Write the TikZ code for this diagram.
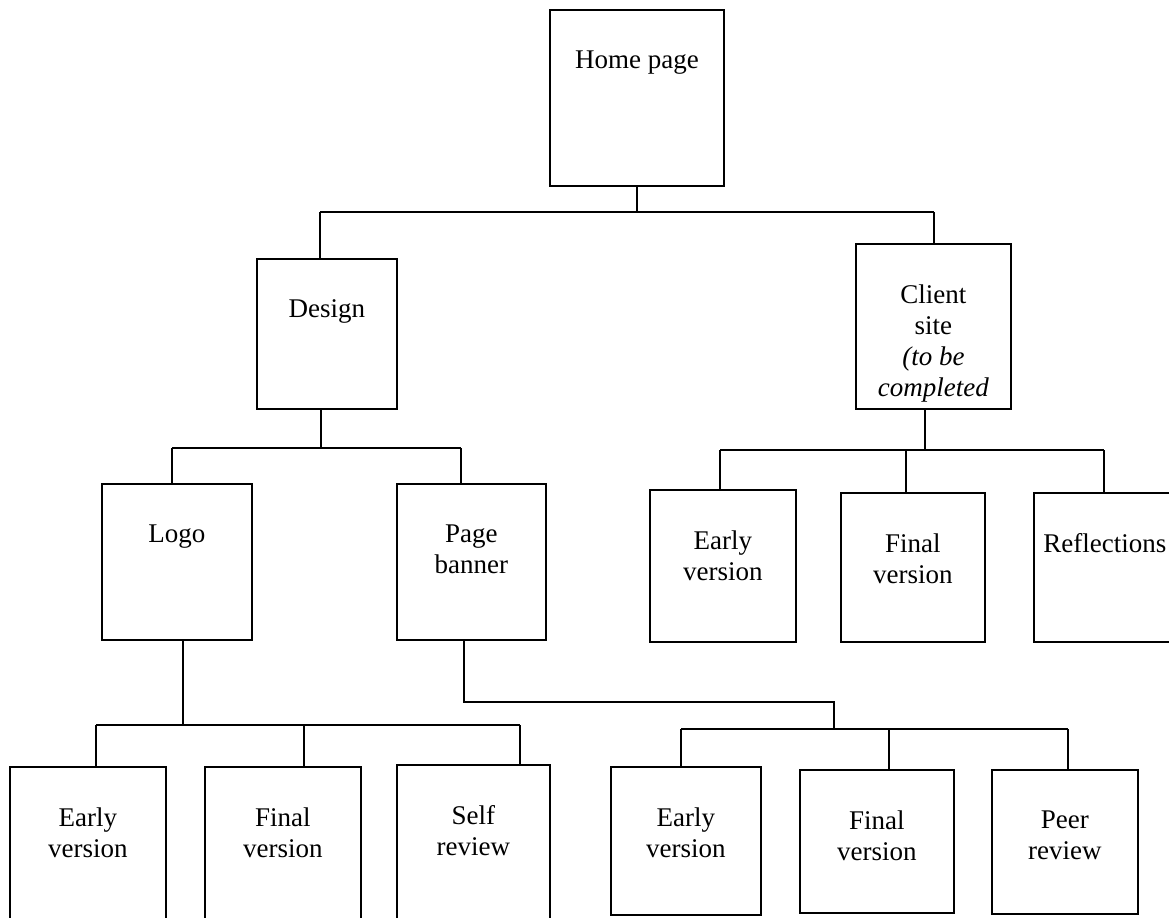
\documentclass[tikz,border=0pt]{standalone}
\usepackage{fontspec}
\setmainfont{Liberation Serif}
\usetikzlibrary{positioning}

\tikzset{
  box/.style 2 args={draw, line width=0.9pt, inner sep=0pt, minimum width=#1, minimum height=#2, anchor=north west},
  txt/.style={anchor=north, inner sep=0pt, align=center, yshift=-20.5pt, font=\fontsize{13.5}{15.5}\selectfont},
  link/.style={line width=0.8pt}
}

\begin{document}
\begin{tikzpicture}[x=0.5pt, y=-0.5pt]
            \useasboundingbox (0,0) rectangle (1169,917);
            \clip (0,0) rectangle (1169,917);

            \node[box={87pt}{88pt}, label={[txt]north:Home page}] (home) at (549,9) {};
            \node[box={70pt}{75pt}, label={[txt]north:Design}] (design) at (256,258) {};
            \node[box={77.5pt}{82.5pt}, label={[txt]north:{Client\\site\\\textit{(to be}\\\textit{completed}}}] (client) at (855,243) {};

            \node[box={75pt}{78pt}, label={[txt]north:Logo}] (logo) at (101,483) {};
            \node[box={74.5pt}{78pt}, label={[txt]north:{Page\\banner}}] (banner) at (396,483) {};

            \node[box={73pt}{76pt}, label={[txt]north:{Early\\version}}] (ce) at (649,489) {};
            \node[box={72pt}{74.5pt}, label={[txt]north:{Final\\version}}] (cf) at (840,492) {};
            \node[box={71pt}{74.5pt}, label={[txt]north:Reflections}] (cr) at (1033,492) {};

            \node[box={78pt}{80pt}, label={[txt]north:{Early\\version}}] (le) at (9,766) {};
            \node[box={78pt}{80pt}, label={[txt]north:{Final\\version}}] (lf) at (204,766) {};
            \node[box={76.5pt}{81pt}, label={[txt]north:{Self\\review}}] (ls) at (396,764) {};

            \node[box={75pt}{74pt}, label={[txt]north:{Early\\version}}] (pe) at (610,766) {};
            \node[box={77pt}{71.5pt}, label={[txt]north:{Final\\version}}] (pf) at (799,769) {};
            \node[box={73pt}{72pt}, label={[txt]north:{Peer\\review}}] (pr) at (991,769) {};

            % junctions
            \coordinate (j0l) at (320,212);
            \coordinate (j0r) at (934,212);
            \coordinate (j1) at (321,448);
            \coordinate (j1l) at (172,448);
            \coordinate (j1r) at (461,448);
            \coordinate (j2) at (925,450);
            \coordinate (j2l) at (720,450);
            \coordinate (j2m) at (906,450);
            \coordinate (j2r) at (1104,450);
            \coordinate (j3) at (183,725);
            \coordinate (j3l) at (96,725);
            \coordinate (j3m) at (304,725);
            \coordinate (j3r) at (520,725);
            \coordinate (j4) at (464,702);
            \coordinate (j5) at (834,729);
            \coordinate (j5l) at (681,729);
            \coordinate (j5m) at (889,729);
            \coordinate (j5r) at (1068,729);

            \draw[link] (home.south) -- (home.south |- j0l);
            \draw[link] (j0l) -- (j0r);
            \draw[link] (j0l) -- (j0l |- design.north);
            \draw[link] (j0r) -- (j0r |- client.north);

            \draw[link] (design.south -| j1) -- (j1);
            \draw[link] (j1l) -- (j1r);
            \draw[link] (j1l) -- (j1l |- logo.north);
            \draw[link] (j1r) -- (j1r |- banner.north);

            \draw[link] (client.south -| j2) -- (j2);
            \draw[link] (j2l) -- (j2r);
            \draw[link] (j2l) -- (j2l |- ce.north);
            \draw[link] (j2m) -- (j2m |- cf.north);
            \draw[link] (j2r) -- (j2r |- cr.north);

            \draw[link] (logo.south -| j3) -- (j3);
            \draw[link] (j3l) -- (j3r);
            \draw[link] (j3l) -- (j3l |- le.north);
            \draw[link] (j3m) -- (j3m |- lf.north);
            \draw[link] (j3r) -- (j3r |- ls.north);

            \draw[link] (banner.south -| j4) -- (j4) -| (j5);
            \draw[link] (j5l) -- (j5r);
            \draw[link] (j5l) -- (j5l |- pe.north);
            \draw[link] (j5m) -- (j5m |- pf.north);
            \draw[link] (j5r) -- (j5r |- pr.north);
\end{tikzpicture}
\end{document}
